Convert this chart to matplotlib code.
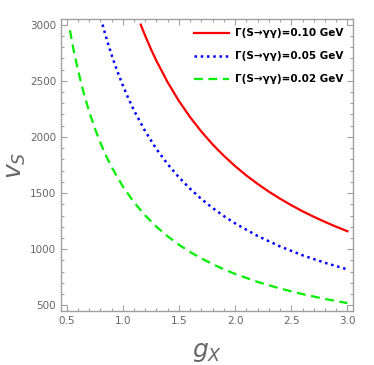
import matplotlib
matplotlib.use("Agg")
import matplotlib.pyplot as plt
from matplotlib.ticker import MultipleLocator

# values
gRed = [1.16, 1.2, 1.25, 1.3, 1.4, 1.5, 1.6, 1.7, 1.8, 1.9, 2.0, 2.1, 2.2, 2.3, 2.4, 2.5, 2.6, 2.7, 2.8, 2.9, 3.0]
vRed = [3000, 2900, 2784, 2677, 2486, 2320, 2175, 2047, 1933, 1832, 1740, 1657, 1582, 1513, 1450, 1392, 1338, 1289, 1243, 1200, 1160]

gBlue = [0.82, 0.86, 0.9, 0.95, 1.0, 1.05, 1.1, 1.2, 1.3, 1.4, 1.5, 1.6, 1.7, 1.8, 1.9, 2.0, 2.2, 2.4, 2.6, 2.8, 3.0]
vBlue = [3000, 2860, 2733, 2589, 2460, 2343, 2236, 2050, 1892, 1757, 1640, 1538, 1447, 1367, 1295, 1230, 1118, 1025, 946, 879, 820]

gGreen = [0.53, 0.56, 0.6, 0.65, 0.7, 0.75, 0.8, 0.85, 0.9, 1.0, 1.1, 1.2, 1.3, 1.4, 1.5, 1.6, 1.7, 1.8, 1.9, 2.0, 2.2, 2.4, 2.6, 2.8, 3.0]
vGreen = [2950, 2786, 2600, 2400, 2229, 2080, 1950, 1835, 1733, 1560, 1418, 1300, 1200, 1114, 1040, 975, 918, 867, 821, 780, 709, 650, 600, 557, 520]

labels = ["Γ(S→γγ)=0.10 GeV", "Γ(S→γγ)=0.05 GeV", "Γ(S→γγ)=0.02 GeV"]

plt.rcParams["mathtext.fontset"] = "dejavusans"
frameColor = "#a0a0a0"
textColor = "#666666"

fig = plt.figure(figsize=(3.74, 3.65), dpi=100)
ax = fig.add_axes([0.163, 0.148, 0.781, 0.800])

ax.plot(gRed, vRed, color="#ff0000", lw=1.6, label=labels[0])
ax.plot(gBlue, vBlue, color="#0000ff", lw=1.8, ls=(0, (1, 1.5)), label=labels[1])
ax.plot(gGreen, vGreen, color="#00ee00", lw=1.6, ls=(0, (4, 2.5)), label=labels[2])

ax.set_xlim(0.45, 3.05)
ax.set_ylim(450, 3050)

ax.xaxis.set_major_locator(MultipleLocator(0.5))
ax.xaxis.set_minor_locator(MultipleLocator(0.1))
ax.yaxis.set_major_locator(MultipleLocator(500))
ax.yaxis.set_minor_locator(MultipleLocator(100))
ax.tick_params(which="both", direction="in", top=True, right=True, color=frameColor,
               labelcolor=textColor, labelsize=7.5, width=0.8)
ax.tick_params(which="major", length=4)
ax.tick_params(which="minor", length=2.2)
for spine in ax.spines.values():
    spine.set_color(frameColor)
    spine.set_linewidth(1.0)

ax.set_xlabel("$g_X$", fontsize=18, color=textColor, labelpad=10)
ax.set_ylabel("$v_S$", fontsize=18, color=textColor, labelpad=1)

leg = ax.legend(loc="upper right", frameon=False, fontsize=7.5, handlelength=3.4,
                handletextpad=0.6, labelspacing=1.25, borderaxespad=0.5)
for t in leg.get_texts():
    t.set_fontweight("bold")

fig.savefig("out.png", dpi=100)
